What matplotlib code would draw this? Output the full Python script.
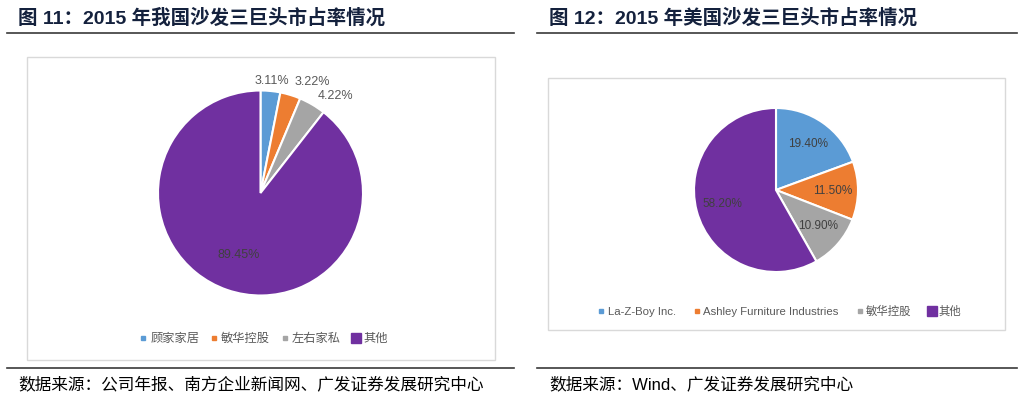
import matplotlib
matplotlib.use("Agg")
import matplotlib.pyplot as plt
import numpy as np
from matplotlib.lines import Line2D
from matplotlib.patches import Rectangle

plt.rcParams['font.family'] = ['Liberation Sans', 'Noto Sans CJK SC', 'DejaVu Sans']

# ---------------- data ----------------
cn_title = "图 11：2015 年我国沙发三巨头市占率情况"
cn_labels = ["顾家家居", "敏华控股", "左右家私", "其他"]
cn_values = [3.11, 3.22, 4.22, 89.45]
cn_source = "数据来源：公司年报、南方企业新闻网、广发证券发展研究中心"

us_title = "图 12：2015 年美国沙发三巨头市占率情况"
us_labels = ["La-Z-Boy Inc.", "Ashley Furniture Industries", "敏华控股", "其他"]
us_values = [19.40, 11.50, 10.90, 58.20]
us_source = "数据来源：Wind、广发证券发展研究中心"

colors = ["#5B9BD5", "#ED7D31", "#A5A5A5", "#7030A0"]

W, H = 1024, 399
fig = plt.figure(figsize=(W / 100, H / 100), dpi=100)
fig.patch.set_facecolor("white")


def fx(px):
    return px / W


def fy(py):
    return 1 - py / H


def hline(x0, x1, y, color="#3a3a3a", lw=1.2):
    fig.add_artist(Line2D([fx(x0), fx(x1)], [fy(y), fy(y)], transform=fig.transFigure,
                          color=color, lw=lw))


def box(x0, y0, x1, y1):
    fig.add_artist(Rectangle((fx(x0), fy(y1)), fx(x1) - fx(x0), fy(y0) - fy(y1),
                             transform=fig.transFigure, facecolor="white",
                             edgecolor="#D9D9D9", lw=1.0, zorder=-5))


def pie_axes(cx, cy, r):
    ax = fig.add_axes([fx(cx - r), fy(cy + r), 2 * r / W, 2 * r / H])
    ax.set_zorder(2)
    return ax


def draw_pie(ax, values, dists, fsize, tcolors, has):
    wedges, _ = ax.pie(values, colors=colors, startangle=90, counterclock=False,
                       wedgeprops=dict(edgecolor="white", linewidth=1.5))
    ax.set_xlim(-1, 1)
    ax.set_ylim(-1, 1)
    ax.set_aspect("equal")
    ax.axis("off")
    for w, v, d, c, ha in zip(wedges, values, dists, tcolors, has):
        ang = np.deg2rad((w.theta1 + w.theta2) / 2)
        ax.text(d * np.cos(ang), d * np.sin(ang), f"{v:.2f}%", ha=ha, va="center",
                fontsize=fsize, color=c, clip_on=False)
    return wedges


# ---------------- left panel ----------------
fig.text(fx(18), fy(18), cn_title, fontsize=14, fontweight="bold", color="#14213d",
         ha="left", va="center")
hline(7, 514, 32.5)
box(27, 57, 495, 360)
axL = pie_axes(260.5, 193, 102.5)
draw_pie(axL, cn_values, [1.1, 1.13, 1.1, 0.64], 9,
         ["#595959", "#595959", "#595959", "#404040"],
         ["center", "left", "left", "center"])
hL = [Line2D([], [], marker="s", ls="", color=c, markersize=ms)
      for c, ms in zip(colors, [3.5, 3.5, 3.5, 7])]
fig.legend(hL, cn_labels, loc="center", bbox_to_anchor=(fx(264), fy(339)), ncol=4,
           frameon=False, fontsize=8.8, labelcolor="#595959", handlelength=0.5,
           handletextpad=0.3, columnspacing=1.0)
hline(7, 514, 367.5)
fig.text(fx(18), fy(384), cn_source, fontsize=12, color="black", ha="left", va="center")

# ---------------- right panel ----------------
fig.text(fx(549), fy(18), us_title, fontsize=14, fontweight="bold", color="#14213d",
         ha="left", va="center")
hline(537, 1017, 32.5)
box(548, 78, 1005, 330)
axR = pie_axes(776, 190, 82)
draw_pie(axR, us_values, [0.69, 0.69, 0.67, 0.67], 8.5,
         ["#404040"] * 4, ["center"] * 4)
hR = [Line2D([], [], marker="s", ls="", color=c, markersize=ms)
      for c, ms in zip(colors, [3.5, 3.5, 3.5, 7])]
fig.legend(hR, us_labels, loc="center", bbox_to_anchor=(fx(780), fy(311)), ncol=4,
           frameon=False, fontsize=8.2, labelcolor="#595959", handlelength=0.5,
           handletextpad=0.3, columnspacing=1.6)
hline(537, 1017, 367.5)
fig.text(fx(549), fy(384), us_source, fontsize=12, color="black", ha="left", va="center")

fig.savefig("out.png", dpi=100)
